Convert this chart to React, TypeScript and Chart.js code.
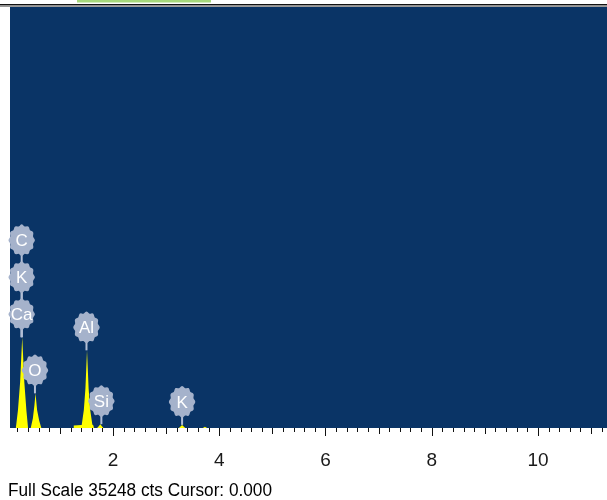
import React, { useEffect, useRef } from "react";
import { Chart, registerables } from "chart.js";

Chart.register(...registerables);

// Spectrum (energy keV, counts)
const ENERGY = [0.06, 0.17, 0.21, 0.25, 0.29, 0.33, 0.37, 0.40, 0.45, 0.49, 0.52, 0.54, 0.57, 0.61, 0.65, 1.25, 1.26, 1.41, 1.45, 1.48, 1.51, 1.54, 1.57, 1.61, 1.63, 1.64, 1.70, 1.73, 1.76, 1.79, 1.82, 3.24, 3.27, 3.30, 3.33, 3.36, 3.69, 3.73, 3.77, 11.3];
const COUNTS = [0, 0, 1500, 3800, 7600, 3800, 1400, 0, 0, 800, 1900, 2900, 1500, 600, 0, 0, 200, 250, 1500, 3300, 6500, 3300, 1500, 300, 200, 0, 0, 150, 320, 150, 0, 0, 120, 260, 120, 0, 0, 110, 0, 0];

// Peak labels
const MARKER_NAMES = ["C", "K", "Ca", "O", "Al", "Si", "K"];
const MARKER_ENERGY = [0.28, 0.28, 0.28, 0.53, 1.50, 1.78, 3.30];
const MARKER_PEAK = [7600, 7600, 7600, 2900, 6500, 320, 260];
const MARKER_STACK = [2, 1, 0, 0, 0, 0, 0];

// Axis
const X_MIN = 0.06;
const X_MAX = 11.3;
const Y_MAX = 35248;
const TICK_LABELS = [2, 4, 6, 8, 10];
const FOOTER = "Full Scale 35248 cts Cursor: 0.000";

const tickValues: number[] = [];
for (let i = 1; i <= 56; i++) tickValues.push(Math.round(i * 2) / 10);

const FONT = "'Liberation Sans Narrow', 'Liberation Sans', Arial, sans-serif";

const decoPlugin = {
  id: "deco",
  beforeDraw(chart: any) {
    const { ctx, chartArea: a, width, height } = chart;
    ctx.save();
    ctx.fillStyle = "#ffffff";
    ctx.fillRect(0, 0, width, height);
    ctx.fillStyle = "#0a3466";
    ctx.fillRect(a.left, a.top, a.right - a.left, a.bottom - a.top);
    // top cropped border
    ctx.fillStyle = "#111111";
    ctx.fillRect(0, 4, width, 1.5);
    ctx.fillStyle = "#9a9a9a";
    ctx.fillRect(0, 5.5, width, 1.5);
    ctx.fillStyle = "#a6d77c";
    ctx.fillRect(77, 0, 134, 2.5);
    ctx.restore();
  },
  afterDraw(chart: any) {
    const { ctx, chartArea: a } = chart;
    const xs = chart.scales.x;
    const ys = chart.scales.y;
    ctx.save();
    // ticks
    ctx.strokeStyle = "#111111";
    ctx.lineWidth = 1;
    tickValues.forEach((v) => {
      const px = Math.round(xs.getPixelForValue(v)) + 0.5;
      const isInt = Math.abs(v - Math.round(v)) < 1e-6;
      const even = isInt && Math.round(v) % 2 === 0;
      const len = even ? 8 : isInt ? 6 : 4;
      ctx.beginPath();
      ctx.moveTo(px, a.bottom);
      ctx.lineTo(px, a.bottom + len);
      ctx.stroke();
    });
    // markers
    const centers: { x: number; y: number; name: string }[] = [];
    MARKER_NAMES.forEach((name, i) => {
      const px = xs.getPixelForValue(MARKER_ENERGY[i]);
      const py = ys.getPixelForValue(MARKER_PEAK[i]);
      const cy = py - 23 - MARKER_STACK[i] * 37;
      ctx.strokeStyle = "#b3bfd6";
      ctx.lineWidth = 2;
      ctx.beginPath();
      ctx.moveTo(px, py);
      ctx.lineTo(px, cy);
      ctx.stroke();
      centers.push({ x: px, y: cy, name });
    });
    centers.forEach((c) => {
      ctx.fillStyle = "#a5b2cb";
      ctx.beginPath();
      const n = 72;
      for (let k = 0; k <= n; k++) {
        const t = (k / n) * Math.PI * 2;
        const f = 1 + 0.06 * Math.cos(12 * t);
        const x = c.x + 12.5 * f * Math.cos(t);
        const y = c.y + 15 * f * Math.sin(t);
        if (k === 0) ctx.moveTo(x, y);
        else ctx.lineTo(x, y);
      }
      ctx.closePath();
      ctx.fill();
      ctx.fillStyle = "#ffffff";
      ctx.font = "17px " + FONT;
      ctx.textAlign = "center";
      ctx.textBaseline = "middle";
      ctx.fillText(c.name, c.x, c.y + 1, 22);
    });
    // footer
    ctx.fillStyle = "#000000";
    ctx.font = "18px " + FONT;
    ctx.textAlign = "left";
    ctx.textBaseline = "alphabetic";
    ctx.fillText(FOOTER, 8, 496, 264);
    ctx.restore();
  },
};

export default function App() {
  const ref = useRef<HTMLCanvasElement | null>(null);
  useEffect(() => {
    if (!ref.current) return;
    const chart = new Chart(ref.current, {
      type: "line",
      data: {
        datasets: [
          {
            data: ENERGY.map((e, i) => ({ x: e, y: COUNTS[i] })),
            borderWidth: 0,
            borderColor: "rgba(0,0,0,0)",
            backgroundColor: "#ffff00",
            fill: "origin",
            pointRadius: 0,
            tension: 0,
          },
        ],
      },
      options: {
        responsive: false,
        animation: false,
        layout: { padding: { left: 10, top: 7, right: 0, bottom: 0 } },
        plugins: { legend: { display: false }, tooltip: { enabled: false } },
        scales: {
          x: {
            type: "linear",
            min: X_MIN,
            max: X_MAX,
            afterBuildTicks: (scale: any) => {
              scale.ticks = tickValues.map((v) => ({ value: v }));
            },
            afterFit: (scale: any) => {
              scale.height = 72;
              scale.paddingLeft = 0;
              scale.paddingRight = 0;
            },
            grid: { display: false, drawTicks: false },
            border: { display: false },
            ticks: {
              autoSkip: false,
              maxRotation: 0,
              padding: 21,
              color: "#1a1a1a",
              font: { size: 19, family: FONT },
              callback: (v: any) => {
                const n = Number(v);
                const m = TICK_LABELS.find((t) => Math.abs(t - n) < 1e-6);
                return m !== undefined ? String(m) : "";
              },
            },
          },
          y: { display: false, min: 0, max: Y_MAX },
        },
      },
      plugins: [decoPlugin],
    });
    return () => chart.destroy();
  }, []);
  return (
    <div style={{ position: "absolute", left: 0, top: 0, width: 607, height: 500 }}>
      <canvas ref={ref} width={607} height={500} />
    </div>
  );
}
